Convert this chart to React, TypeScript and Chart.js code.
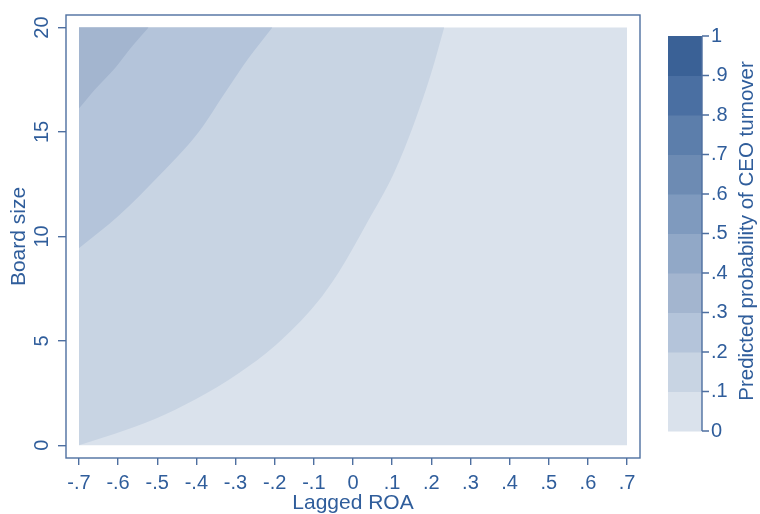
import React, { useEffect, useRef } from 'react';
import { Chart, registerables } from 'chart.js';

Chart.register(...registerables);

// ---- Data ----
const roaTicks = [-0.7, -0.6, -0.5, -0.4, -0.3, -0.2, -0.1, 0, 0.1, 0.2, 0.3, 0.4, 0.5, 0.6, 0.7];
const boardTicks = [0, 5, 10, 15, 20];
const probLevels = [0, 0.1, 0.2, 0.3, 0.4, 0.5, 0.6, 0.7, 0.8, 0.9, 1];
const levelColors = ['#dae2ec', '#c8d4e3', '#b4c4da', '#a3b5cf', '#91a8c7', '#7f9abe', '#6d8bb3', '#5c7eab', '#4a6fa2', '#3a6196'];

// contour boundary p = 0.1 (Lagged ROA, Board size)
const contour10Roa = [-0.7, -0.608, -0.506, -0.402, -0.291, -0.197, -0.095, -0.036, 0.037, 0.105, 0.156, 0.199, 0.233];
const contour10Board = [0, 0.55, 1.26, 2.2, 3.46, 4.8, 6.76, 8.3, 10.69, 13.05, 15.41, 17.77, 20];
// contour boundary p = 0.2
const contour20Roa = [-0.7, -0.598, -0.496, -0.394, -0.326, -0.266, -0.206];
const contour20Board = [9.43, 11.0, 12.89, 15.0, 16.9, 18.55, 20];
// contour boundary p = 0.3
const contour30Roa = [-0.7, -0.658, -0.607, -0.564, -0.522];
const contour30Board = [16.12, 17.06, 18.08, 19.1, 20];

const roaMin = -0.7;
const roaMax = 0.7;
const boardMin = 0;
const boardMax = 20;

const textColor = '#2f5d9b';
const lineColor = '#4e6fa0';
const fontFamily = '"Liberation Sans", Arial, Helvetica, sans-serif';

const fmt = (v: number) => {
  const r = Math.round(v * 10) / 10;
  if (Math.abs(r - Math.round(r)) < 1e-9) return String(Math.round(r));
  return r.toFixed(1).replace(/^(-?)0\./, '$1.');
};

const zip = (xs: number[], ys: number[]) => xs.map((x, i) => ({ x, y: ys[i] }));

const extrasPlugin = {
  id: 'extras',
  afterDraw(chart: any) {
    const { ctx, chartArea } = chart;
    const yScale = chart.scales.y;
    ctx.save();
    // frame
    ctx.strokeStyle = lineColor;
    ctx.lineWidth = 1.4;
    ctx.strokeRect(chartArea.left, chartArea.top, chartArea.right - chartArea.left, chartArea.bottom - chartArea.top);

    // rotated y tick labels
    ctx.fillStyle = textColor;
    ctx.font = `20px ${fontFamily}`;
    ctx.textAlign = 'center';
    ctx.textBaseline = 'middle';
    boardTicks.forEach((v) => {
      const py = yScale.getPixelForValue(v);
      ctx.save();
      ctx.translate(42, py);
      ctx.rotate(-Math.PI / 2);
      ctx.fillText(fmt(v), 0, 0);
      ctx.restore();
    });

    // colour bar legend
    const cbLeft = 668;
    const cbRight = 702;
    const cbTop = 36;
    const cbBottom = 431;
    const toPx = (p: number) => cbBottom - (p - probLevels[0]) / (probLevels[probLevels.length - 1] - probLevels[0]) * (cbBottom - cbTop);
    for (let i = 0; i < levelColors.length; i++) {
      const y0 = toPx(probLevels[i]);
      const y1 = toPx(probLevels[i + 1]);
      ctx.fillStyle = levelColors[i];
      ctx.fillRect(cbLeft, y1, cbRight - cbLeft, y0 - y1 + 0.5);
    }
    ctx.strokeStyle = lineColor;
    ctx.lineWidth = 1.4;
    ctx.beginPath();
    ctx.moveTo(cbRight, cbTop);
    ctx.lineTo(cbRight, cbBottom);
    probLevels.forEach((p) => {
      const py = toPx(p);
      ctx.moveTo(cbRight, py);
      ctx.lineTo(cbRight + 7, py);
    });
    ctx.stroke();
    ctx.fillStyle = textColor;
    ctx.font = `20px ${fontFamily}`;
    ctx.textAlign = 'left';
    ctx.textBaseline = 'middle';
    probLevels.forEach((p) => {
      ctx.fillText(fmt(p), cbRight + 9, toPx(p));
    });
    ctx.save();
    ctx.font = `20.5px ${fontFamily}`;
    ctx.textAlign = 'center';
    ctx.translate(747, 231);
    ctx.rotate(-Math.PI / 2);
    ctx.fillText('Predicted probability of CEO turnover', 0, 0);
    ctx.restore();
    ctx.restore();
  },
};

export default function App() {
  const ref = useRef<HTMLCanvasElement | null>(null);
  useEffect(() => {
    if (!ref.current) return;
    const common = {
      borderWidth: 0,
      borderColor: 'transparent',
      pointRadius: 0,
      pointHoverRadius: 0,
      cubicInterpolationMode: 'monotone' as const,
    };
    const chart = new Chart(ref.current, {
      type: 'line',
      data: {
        datasets: [
          { ...common, label: '.3-.4', data: zip(contour30Roa, contour30Board), fill: { value: boardMax }, backgroundColor: levelColors[3] },
          { ...common, label: '.2-.3', data: zip(contour20Roa, contour20Board), fill: { value: boardMax }, backgroundColor: levelColors[2] },
          { ...common, label: '.1-.2', data: zip(contour10Roa, contour10Board), fill: { value: boardMax }, backgroundColor: levelColors[1] },
          { ...common, label: '0-.1', data: [{ x: roaMin, y: boardMin }, { x: roaMax, y: boardMin }], fill: { value: boardMax }, backgroundColor: levelColors[0] },
        ],
      },
      options: {
        animation: false,
        responsive: false,
        devicePixelRatio: 1,
        layout: { padding: { left: 0, top: 8, right: 120, bottom: 0 } },
        plugins: { legend: { display: false }, tooltip: { enabled: false } },
        events: [],
        scales: {
          x: {
            type: 'linear',
            min: -0.733,
            max: 0.733,
            afterBuildTicks: (axis: any) => {
              axis.ticks = roaTicks.map((v) => ({ value: v }));
            },
            afterFit: (s: any) => {
              s.height = 56;
            },
            grid: { display: true, drawOnChartArea: false, drawTicks: true, tickLength: 7, color: lineColor, lineWidth: 1.4 },
            border: { display: false },
            ticks: {
              color: textColor,
              font: { family: fontFamily, size: 20 },
              padding: 6,
              maxRotation: 0,
              autoSkip: false,
              callback: (v: any) => fmt(Number(v)),
            },
            title: { display: true, text: 'Lagged ROA', color: textColor, font: { family: fontFamily, size: 21, lineHeight: 1.0 }, padding: 0 },
          },
          y: {
            type: 'linear',
            min: -0.61,
            max: 20.6,
            afterBuildTicks: (axis: any) => {
              axis.ticks = boardTicks.map((v) => ({ value: v }));
            },
            afterFit: (s: any) => {
              s.width = 66;
            },
            grid: { display: true, drawOnChartArea: false, drawTicks: true, tickLength: 8, color: lineColor, lineWidth: 1.4 },
            border: { display: false },
            ticks: { color: 'transparent', font: { family: fontFamily, size: 20 }, callback: (v: any) => fmt(Number(v)) },
            title: { display: true, text: 'Board size', color: textColor, font: { family: fontFamily, size: 21 }, padding: { top: 7, bottom: 0 } },
          },
        },
      },
      plugins: [extrasPlugin],
    });
    return () => chart.destroy();
  }, []);
  return (
    <div style={{ position: 'fixed', left: 0, top: 0, width: 760, height: 514, background: '#ffffff' }}>
      <canvas ref={ref} width={760} height={514} style={{ display: 'block', width: 760, height: 514 }} />
    </div>
  );
}
